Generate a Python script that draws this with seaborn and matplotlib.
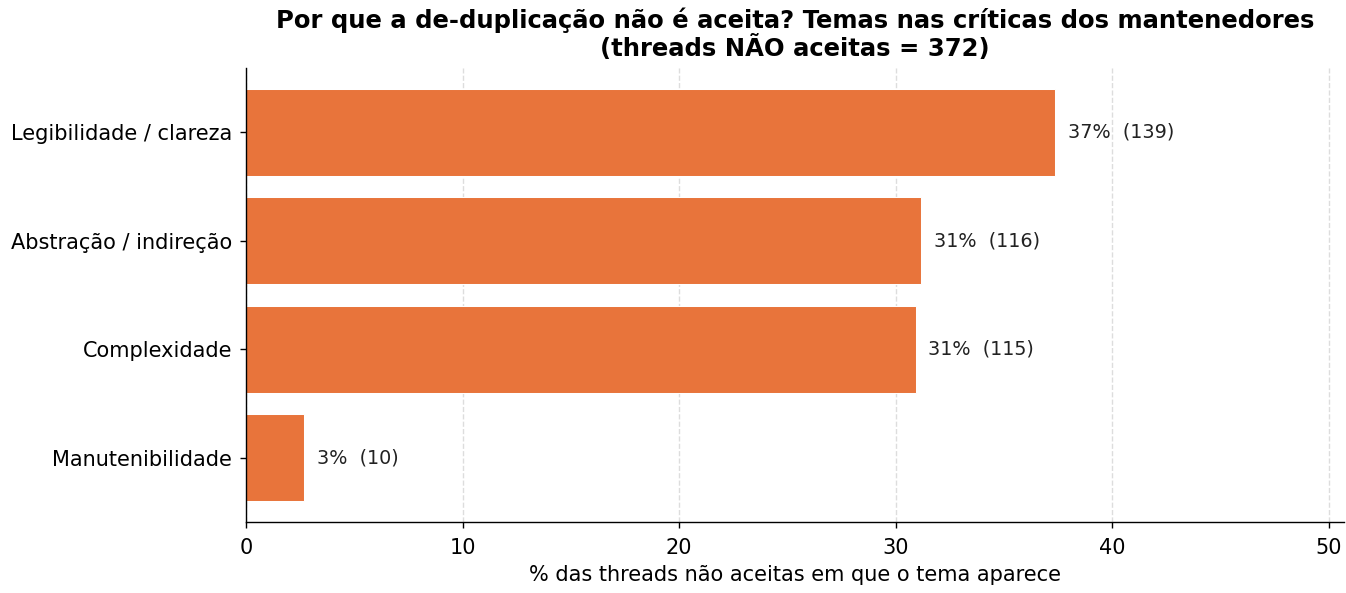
import matplotlib
matplotlib.use("Agg")
import matplotlib.pyplot as plt
import seaborn as sns
import pandas as pd

categories = ["Legibilidade / clareza", "Abstração / indireção", "Complexidade", "Manutenibilidade"]
counts = [139, 116, 115, 10]
total = 372
percents = [c / total * 100 for c in counts]

sns.set_theme(style="white")
plt.rcParams['font.family'] = ['DejaVu Sans']
plt.rcParams['text.color'] = 'black'
plt.rcParams['axes.labelcolor'] = 'black'
plt.rcParams['xtick.color'] = 'black'
plt.rcParams['ytick.color'] = 'black'

df = pd.DataFrame({"tema": categories, "pct": percents, "n": counts})

fig, ax = plt.subplots(figsize=(1346 / 125, 593 / 125), dpi=125)
sns.barplot(data=df, y="tema", x="pct", color="#E8743B", saturation=1, width=0.8, ax=ax,
            orient="h", edgecolor="white", linewidth=0.6)

for i, (p, n) in enumerate(zip(percents, counts)):
    ax.text(p + 0.6, i, f"{p:.0f}%  ({n})", va="center", ha="left", fontsize=11, color="#222222")

ax.set_xlim(0, 50.7)
ax.set_ylim(3.59, -0.59)
ax.set_xticks([0, 10, 20, 30, 40, 50])
ax.xaxis.grid(True, linestyle="--", color="#dddddd", linewidth=0.8)
ax.set_axisbelow(True)
sns.despine(ax=ax)
for s in ["left", "bottom"]:
    ax.spines[s].set_color("black")
    ax.spines[s].set_linewidth(0.8)
ax.tick_params(axis="both", length=3.5, width=0.8, color="black", labelsize=12)
ax.tick_params(axis="x", bottom=True, pad=5.5)
ax.tick_params(axis="y", left=True, pad=4.5)
ax.set_ylabel("")
ax.set_xlabel("% das threads não aceitas em que o tema aparece", fontsize=12, labelpad=4.5)
ax.set_title("Por que a de-duplicação não é aceita? Temas nas críticas dos mantenedores\n(threads NÃO aceitas = 372)",
             fontsize=14, fontweight="bold", color="black", linespacing=1.1, pad=7)

fig.subplots_adjust(left=0.1828, right=0.9985, top=0.8853, bottom=0.1197)
fig.savefig("out.png", dpi=125)
